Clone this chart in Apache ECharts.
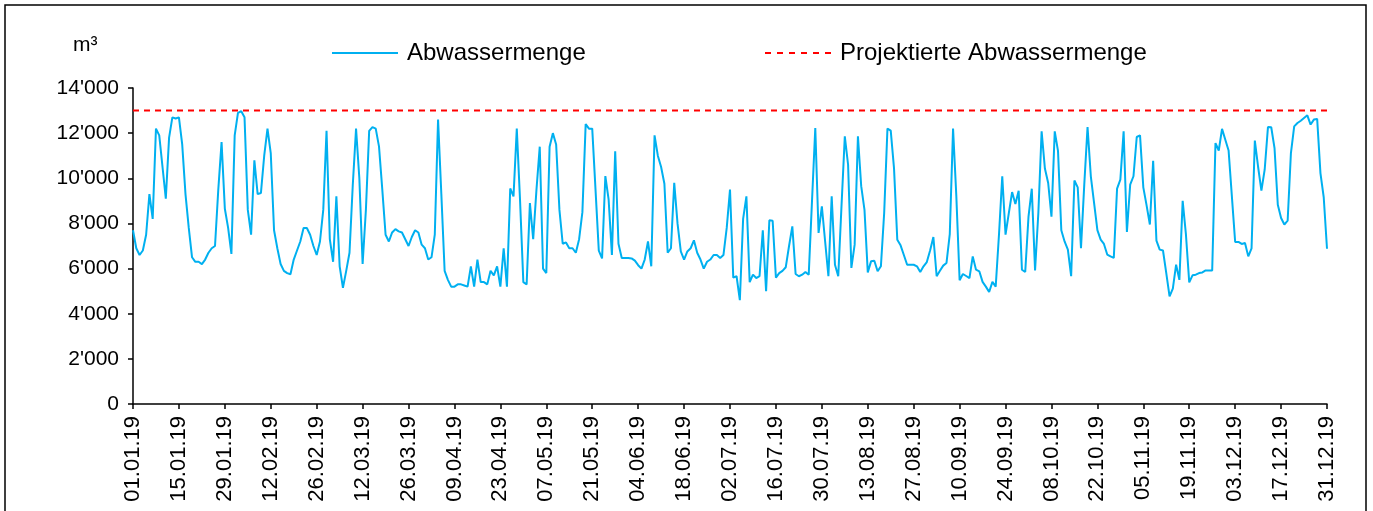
<!DOCTYPE html>
<html>
<head>
<meta charset="utf-8">
<title>Abwassermenge 2019</title>
<script src="https://cdn.jsdelivr.net/npm/echarts@6/dist/echarts.min.js"></script>
<style>
  html, body { margin: 0; padding: 0; background: #fff; }
  #main { width: 1373px; height: 511px; }
</style>
</head>
<body>
<div id="main"></div>
<script>
// Tageswerte Abwassermenge 2019 in m³, pro Monat
const jan = [7700, 6900, 6600, 6800, 7500, 9300, 8200, 12200, 11900, 10500, 9100, 11800, 12700, 12650, 12700, 11500, 9300, 7800, 6500, 6300, 6300, 6200, 6400, 6700, 6900, 7000, 9500, 11600, 8650, 7800, 6650];
const feb = [11900, 12900, 12970, 12700, 8600, 7500, 10800, 9300, 9350, 11000, 12200, 11100, 7700, 6900, 6200, 5900, 5800, 5750, 6400, 6800, 7200, 7800, 7800, 7500, 7000, 6600, 7200, 8600];
const mar = [12100, 7300, 6300, 9200, 6100, 5150, 5900, 6700, 9700, 12200, 10000, 6200, 8600, 12100, 12270, 12200, 11400, 9500, 7500, 7200, 7600, 7750, 7650, 7600, 7300, 7000, 7400, 7700, 7600, 7060, 6900];
const apr = [6400, 6500, 7500, 12600, 9300, 5900, 5500, 5200, 5200, 5300, 5300, 5250, 5200, 6100, 5200, 6400, 5400, 5400, 5300, 5900, 5700, 6100, 5200, 6900, 5200, 9550, 9200, 12200, 9000, 5400];
const mai = [5300, 8900, 7300, 9500, 11400, 6000, 5800, 11400, 12000, 11500, 8600, 7100, 7160, 6900, 6900, 6700, 7300, 8500, 12400, 12200, 12200, 9500, 6800, 6450, 10100, 9050, 6600, 11200, 7100, 6470, 6470];
const jun = [6470, 6450, 6350, 6150, 6000, 6400, 7200, 6100, 11900, 11000, 10500, 9760, 6700, 6900, 9800, 8000, 6760, 6400, 6760, 6900, 7250, 6700, 6400, 6000, 6300, 6400, 6600, 6600, 6470, 6600];
const jul = [7800, 9500, 5600, 5660, 4600, 8200, 9200, 5400, 5730, 5580, 5660, 7700, 5000, 8140, 8120, 5600, 5800, 5900, 6060, 7000, 7870, 5760, 5660, 5730, 5850, 5730, 9000, 12230, 7580, 8760, 7200];
const aug = [5660, 9200, 6170, 5660, 8800, 11860, 10600, 6030, 7060, 11860, 9650, 8600, 5830, 6320, 6350, 5880, 6100, 8460, 12200, 12110, 10450, 7280, 7030, 6600, 6170, 6170, 6170, 6100, 5850, 6100, 6290];
const sep = [6800, 7400, 5660, 5900, 6130, 6250, 7530, 12200, 9200, 5480, 5760, 5670, 5580, 6540, 5950, 5880, 5410, 5200, 4960, 5410, 5200, 7500, 10090, 7500, 8460, 9390, 8860, 9450, 5950, 5850];
const okt = [8300, 9540, 5920, 8460, 12080, 10430, 9790, 8300, 12080, 11200, 7700, 7200, 6840, 5660, 9900, 9600, 6900, 9720, 12270, 10090, 8900, 7700, 7280, 7090, 6620, 6540, 6470, 9540, 9940, 12080, 7620];
const nov = [9720, 10090, 11830, 11900, 9600, 8800, 7950, 10780, 7240, 6840, 6800, 5800, 4770, 5110, 6170, 5500, 9000, 7500, 5390, 5700, 5730, 5800, 5830, 5920, 5920, 5920, 11560, 11230, 12190, 11710];
const dez = [11230, 9200, 7180, 7180, 7090, 7130, 6540, 6900, 11670, 10500, 9450, 10380, 12270, 12260, 11340, 8830, 8240, 7950, 8120, 11120, 12300, 12450, 12550, 12670, 12790, 12380, 12600, 12630, 10230, 9160, 6880];

const projektiert = 13000;
const yTicks = [0, 2000, 4000, 6000, 8000, 10000, 12000, 14000];

const abwasser = [].concat(jan, feb, mar, apr, mai, jun, jul, aug, sep, okt, nov, dez);

// Datumsbeschriftung dd.mm.yy
const categories = [];
for (let i = 0; i < abwasser.length; i++) {
  const d = new Date(Date.UTC(2019, 0, 1 + i));
  const dd = String(d.getUTCDate()).padStart(2, '0');
  const mm = String(d.getUTCMonth() + 1).padStart(2, '0');
  categories.push(dd + '.' + mm + '.19');
}

function tausender(v) {
  return String(v).replace(/\B(?=(\d{3})+(?!\d))/g, "'");
}

const font = 'Arial, "Liberation Sans", sans-serif';
const blau = '#00B0F0';
const rot = '#FF0000';
// gestricheltes Legendensymbol
const dashIcon = 'path://M0,0h6v2h-6z M12,0h6v2h-6z M24,0h6v2h-6z M36,0h6v2h-6z M48,0h6v2h-6z M60,0h6v2h-6z';

const chart = echarts.init(document.getElementById('main'));

chart.setOption({
  animation: false,
  backgroundColor: '#fff',
  textStyle: { fontFamily: font, color: '#000' },
  graphic: [
    {
      type: 'rect',
      shape: { x: 5, y: 5, width: 1361, height: 530 },
      style: { fill: 'none', stroke: '#000', lineWidth: 1.5 },
      silent: true
    },
    {
      type: 'text',
      left: 73,
      top: 35,
      style: { text: 'm³', font: '21px ' + font, fill: '#000' }
    }
  ],
  legend: [
    {
      left: 327,
      top: 36,
      data: [{ name: 'Abwassermenge', icon: 'rect', itemStyle: { color: blau } }],
      itemWidth: 66,
      itemHeight: 2,
      textStyle: { fontSize: 24, color: '#000', fontFamily: font, padding: [0, 0, 0, 4] }
    },
    {
      left: 760,
      top: 36,
      data: [{ name: 'Projektierte Abwassermenge', icon: dashIcon, itemStyle: { color: rot } }],
      itemWidth: 66,
      itemHeight: 2,
      textStyle: { fontSize: 24, color: '#000', fontFamily: font, padding: [0, 0, 0, 4] }
    }
  ],
  grid: { left: 133, right: 46, top: 88, bottom: 107, containLabel: false },
  xAxis: {
    type: 'category',
    data: categories,
    boundaryGap: false,
    axisLine: { lineStyle: { color: '#000', width: 1.5 } },
    axisTick: { interval: 13, length: 5, lineStyle: { color: '#000', width: 1.5 } },
    axisLabel: {
      interval: 13,
      rotate: 90,
      margin: 12,
      fontSize: 22,
      color: '#000',
      fontFamily: font
    },
    splitLine: { show: false }
  },
  yAxis: {
    type: 'value',
    min: yTicks[0],
    max: yTicks[yTicks.length - 1],
    interval: yTicks[1] - yTicks[0],
    axisLine: { show: true, lineStyle: { color: '#000', width: 1.5 } },
    axisTick: { show: true, length: 5, lineStyle: { color: '#000', width: 1.5 } },
    axisLabel: {
      margin: 14,
      fontSize: 21,
      color: '#000',
      fontFamily: font,
      formatter: tausender
    },
    splitLine: { show: false }
  },
  series: [
    {
      name: 'Abwassermenge',
      type: 'line',
      data: abwasser,
      symbol: 'none',
      lineStyle: { color: blau, width: 2 },
      itemStyle: { color: blau }
    },
    {
      name: 'Projektierte Abwassermenge',
      type: 'line',
      data: categories.map(() => projektiert),
      symbol: 'none',
      lineStyle: { color: rot, width: 2, type: [6, 5] },
      itemStyle: { color: rot }
    }
  ]
});
</script>
</body>
</html>
